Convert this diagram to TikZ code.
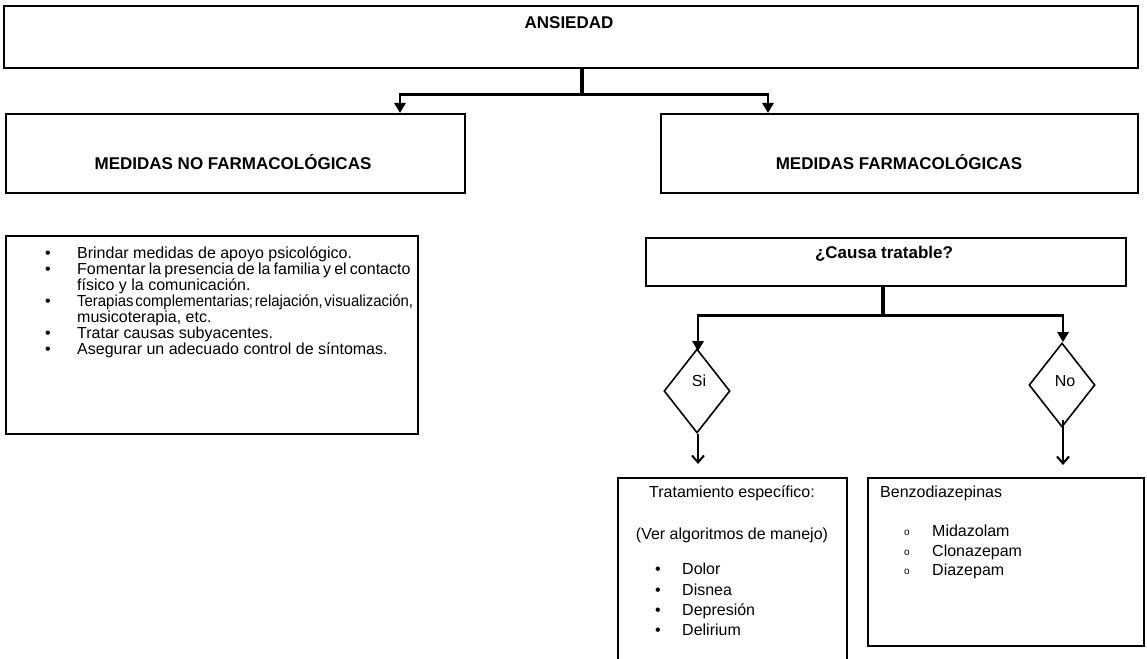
\documentclass[tikz,border=0pt]{standalone}
\usepackage{fontspec}
\setmainfont{Liberation Sans}
\usetikzlibrary{shapes.geometric,arrows.meta}
\newcommand{\bul}{\makebox[32pt][l]{•}}
\begin{document}
\begin{tikzpicture}[x=1pt,y=-1pt,
  box/.style={draw,line width=1.6pt,inner sep=0pt,anchor=north west},
  dia/.style={draw,line width=1.6pt,diamond,inner sep=0pt,minimum width=66pt,minimum height=84pt},
  stem/.style={line width=4.5pt},
  bar/.style={line width=3pt},
  arr/.style={line width=2.6pt,-{Triangle[length=10pt,width=11pt]}},
  arrb/.style={line width=2pt,-{Straight Barb[length=7pt,width=12pt,line width=2pt]}},
  txt/.style={inner sep=0pt,font=\fontsize{16}{16}\selectfont},
  head/.style={inner sep=0pt,font=\fontsize{17}{17}\selectfont\bfseries}]
\useasboundingbox (0,0) rectangle (1147,658);
\fill[white] (0,0) rectangle (1147,658);

% boxes
\node[box,minimum width=1134pt,minimum height=62pt] (ans) at (3,5) {};
\node[box,minimum width=459pt,minimum height=79pt] (nf) at (5,113) {};
\node[box,minimum width=477pt,minimum height=79pt] (f) at (660,113) {};
\node[box,minimum width=412pt,minimum height=198pt] (lst) at (5,235) {};
\node[box,minimum width=480pt,minimum height=48pt] (ct) at (645,237) {};
\node[dia] (si) at (697,391) {};
\node[dia] (no) at (1062,385) {};
\node[box,minimum width=229pt,minimum height=185pt] (tr) at (617,477) {};
\node[box,minimum width=276pt,minimum height=168pt] (bz) at (867,477) {};

% texts
\node[head] (tans) at (569,23) {ANSIEDAD};
\node[head] (tnf) at (233,162) {MEDIDAS NO FARMACOLÓGICAS};
\node[head] (tf) at (899,162) {MEDIDAS FARMACOLÓGICAS};
\node[head] (tct) at (884,254) {¿Causa tratable?};
\node[txt] (tsi) at (699,381) {Si};
\node[txt] (tno) at (1065,381) {No};

\node[txt,anchor=north west,align=left,font=\fontsize{16}{16}\selectfont] (tl) at (45,247) {%
\bul Brindar medidas de apoyo psicológico.\\
\bul\makebox[336pt][s]{\spaceskip=0.2em minus 0.05em Fomentar la presencia de la familia y el contacto}\\
\hspace*{32pt}físico y la comunicación.\\
\bul\resizebox{336pt}{\height}{\spaceskip=0.12em Terapias complementarias; relajación, visualización,}\\
\hspace*{32pt}musicoterapia, etc.\\
\bul Tratar causas subyacentes.\\
\bul Asegurar un adecuado control de síntomas.};

\node[txt] (ttr1) at (732,493) {Tratamiento específico:};
\node[txt] (ttr2) at (732,535) {(Ver algoritmos de manejo)};
\node[txt,anchor=north west,align=left,font=\fontsize{16}{20.3}\selectfont] (ttr3) at (655,563) {%
\makebox[27pt][l]{•}Dolor\\
\makebox[27pt][l]{•}Disnea\\
\makebox[27pt][l]{•}Depresión\\
\makebox[27pt][l]{•}Delirium};

\node[txt,anchor=west] (tbz) at (880,493) {Benzodiazepinas};
\node[txt,anchor=north west,align=left,font=\fontsize{16}{19.5}\selectfont] (tbz2) at (904,525) {%
\makebox[28pt][l]{\raisebox{1pt}{\fontsize{10}{10}\selectfont o}}Midazolam\\
\makebox[28pt][l]{\raisebox{1pt}{\fontsize{10}{10}\selectfont o}}Clonazepam\\
\makebox[28pt][l]{\raisebox{1pt}{\fontsize{10}{10}\selectfont o}}Diazepam};

% connectors
\coordinate (j1) at (582,95);
\coordinate (jl) at (400,95);
\coordinate (jr) at (768,95);
\draw[stem] (j1 |- ans.south) -- (j1);
\draw[bar] ([xshift=-1.3pt]jl) -- ([xshift=1.3pt]jr);
\draw[arr] (jl) -- (jl |- nf.north);
\draw[arr] (jr) -- (jr |- f.north);

\coordinate (j2) at (883,315);
\coordinate (j2l) at (698,315);
\coordinate (j2r) at (1063,315);
\draw[stem] (j2 |- ct.south) -- (j2);
\draw[bar] ([xshift=-1.3pt]j2l) -- ([xshift=1.3pt]j2r);
\draw[arr] (j2l) -- ([yshift=-3pt]j2l |- si.north);
\draw[arr] (j2r) -- (j2r |- no.north);

\coordinate (sa) at (698,464);
\coordinate (na) at (1063,465);
\draw[arrb] (si.south -| sa) -- (sa);
\draw[arrb] ([yshift=8pt]no.south -| na) -- (na);
\end{tikzpicture}
\end{document}
